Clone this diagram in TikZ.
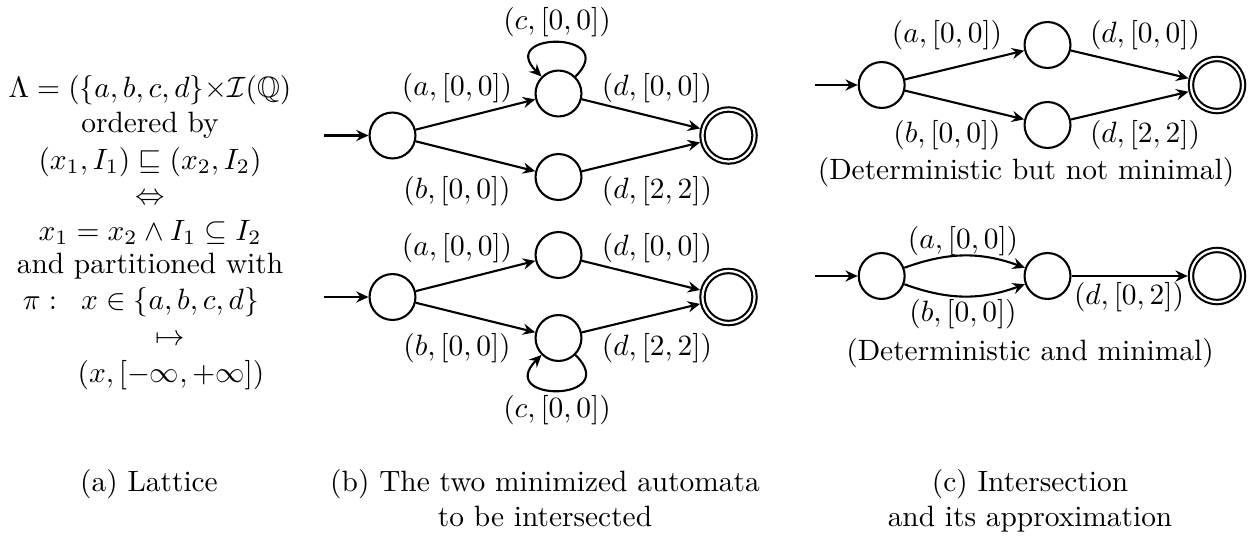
\RequirePackage{fix-cm}
\documentclass[tikz,border=0pt]{standalone}
\usepackage{amsmath,amssymb}
\usetikzlibrary{arrows.meta}
\begin{document}
\begin{tikzpicture}[x=0.35714pt,y=-0.35714pt, line width=0.75pt,
  font=\fontsize{10.5pt}{12.6pt}\selectfont,
  >={Stealth[length=4.4pt,width=4pt,inset=1.5pt]},
  st/.style={circle,draw,minimum size=16.4pt,inner sep=0pt},
  acc/.style={circle,draw,double,double distance=0.8pt,minimum size=18.6pt,inner sep=0pt,outer sep=1.15pt},
  lbl/.style={inner sep=0pt,text height=7.8pt,text depth=2.6pt}]
\useasboundingbox (0,0) rectangle (1251,535);

% ---------- (a) lattice ----------
\node[lbl] (t1) at (150,90) {$\Lambda = (\{a,b,c,d\}{\times}\mathcal{I}(\mathbb{Q})$};
\node[lbl] (t2) at (150,125) {ordered by};
\node[lbl] (t3) at (150,162) {$(x_1,I_1) \sqsubseteq (x_2,I_2)$};
\node[lbl] (t4) at (150,197) {$\Leftrightarrow$};
\node[lbl] (t5) at (150,233) {$x_1 = x_2 \wedge I_1 \subseteq I_2$};
\node[lbl] (t6) at (150,266) {and partitioned with};
\node[lbl] (t7a) at (40,302) {$\pi:$};
\node[lbl] (t7b) at (170,302) {$x \in \{a,b,c,d\}$};
\node[lbl] (t8) at (170,338) {$\mapsto$};
\node[lbl] (t9) at (171,375) {$(x,[-\infty,+\infty])$};

% ---------- (b) top automaton ----------
\node[st] (A0) at (392.5,135.5) {};
\node[st] (A1) at (558.5,93.5) {};
\node[st] (A2) at (558.5,177) {};
\node[acc] (A3) at (728.5,135.5) {};
\coordinate (A0i) at (324,135.5);
\draw[->] (A0i) -- (A0);
\draw[->] (A0) -- (A1);
\draw[->] (A0) -- (A2);
\draw[->] (A1) -- (A3);
\draw[->] (A2) -- (A3);
\draw[->] (A1.45) .. controls +(45:23pt) and +(135:23pt) .. (A1.135);
\node[lbl] (la1) at (457,88.5) {$(a,[0,0])$};
\node[lbl] (lc1) at (557,22.5) {$(c,[0,0])$};
\node[lbl] (ld1) at (657,88.5) {$(d,[0,0])$};
\node[lbl] (lb1) at (457,191.5) {$(b,[0,0])$};
\node[lbl] (le1) at (657,191.5) {$(d,[2,2])$};

% ---------- (b) bottom automaton ----------
\node[st] (B0) at (392.5,297) {};
\node[st] (B1) at (558.5,255) {};
\node[st] (B2) at (558.5,338) {};
\node[acc] (B3) at (728.5,297) {};
\coordinate (B0i) at (324,297);
\draw[->] (B0i) -- (B0);
\draw[->] (B0) -- (B1);
\draw[->] (B0) -- (B2);
\draw[->] (B1) -- (B3);
\draw[->] (B2) -- (B3);
\draw[->] (B2.-45) .. controls +(-45:24pt) and +(-135:24pt) .. (B2.-135);
\node[lbl] (la2) at (457,248) {$(a,[0,0])$};
\node[lbl] (ld2) at (657,248) {$(d,[0,0])$};
\node[lbl] (lb2) at (457,348) {$(b,[0,0])$};
\node[lbl] (le2) at (657,348) {$(d,[2,2])$};
\node[lbl] (lc2) at (557,410) {$(c,[0,0])$};

% ---------- (c) top automaton ----------
\node[st] (C0) at (881.7,85) {};
\node[st] (C1) at (1047.5,45) {};
\node[st] (C2) at (1047.5,125) {};
\node[acc] (C3) at (1217,85) {};
\coordinate (C0i) at (815,85);
\draw[->] (C0i) -- (C0);
\draw[->] (C0) -- (C1);
\draw[->] (C0) -- (C2);
\draw[->] (C1) -- (C3);
\draw[->] (C2) -- (C3);
\node[lbl] (la3) at (947,35) {$(a,[0,0])$};
\node[lbl] (ld3) at (1145,35) {$(d,[0,0])$};
\node[lbl] (lb3) at (947,135) {$(b,[0,0])$};
\node[lbl] (le3) at (1145,135) {$(d,[2,2])$};
\node[lbl] (cap1) at (1026,172) {(Deterministic but not minimal)};

% ---------- (c) bottom automaton ----------
\node[st] (D0) at (881.7,276) {};
\node[st] (D1) at (1047.5,276) {};
\node[acc] (D3) at (1217,276) {};
\coordinate (D0i) at (815,276);
\draw[->] (D0i) -- (D0);
\draw[->] (D0) to[bend left=20] (D1);
\draw[->] (D0) to[bend right=20] (D1);
\draw[->] (D1) -- (D3);
\node[lbl] (la4) at (963,241) {$(a,[0,0])$};
\node[lbl] (lb4) at (963,314) {$(b,[0,0])$};
\node[lbl] (ld4) at (1129,297) {$(d,[0,2])$};
\node[lbl] (cap2) at (1030,353) {(Deterministic and minimal)};

% ---------- captions ----------
\node[lbl] (ca) at (149,484) {(a) Lattice};
\node[lbl] (cb1) at (545,484) {(b) The two minimized automata};
\node[lbl] (cb2) at (545,519) {to be intersected};
\node[lbl] (cc1) at (1030,484) {(c) Intersection};
\node[lbl] (cc2) at (1030,519) {and its approximation};
\end{tikzpicture}
\end{document}
